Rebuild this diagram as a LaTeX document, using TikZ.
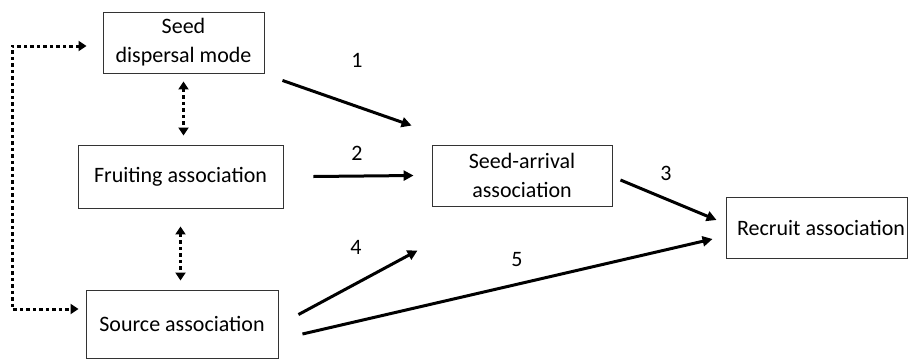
\documentclass[tikz,border=0pt]{standalone}
\usepackage{fontspec}
\setmainfont{Carlito}
\usetikzlibrary{positioning, arrows.meta}

\begin{document}
\begin{tikzpicture}[x=1pt, y=-1pt, font=\fontsize{22}{29}\selectfont]
  \useasboundingbox (0,0) rectangle (909,359);
  \tikzset{
    box/.style={draw=black!80, line width=0.9pt, align=center, inner sep=0pt},
    arr/.style={-{Triangle[length=10pt, width=10pt]}, line width=3pt},
    dotarr/.style={{Triangle[length=8pt, width=10pt]}-{Triangle[length=8pt, width=10pt]},
                   line width=3pt, dash pattern=on 3.5pt off 3pt}
  }
  \node[box, minimum width=161pt, minimum height=61pt] (disp) at (183.5,42.5) {Seed\\dispersal mode};
  \node[box, minimum width=205pt, minimum height=63pt] (fruit) at (180.5,176.5) {Fruiting association};
  \node[box, minimum width=192pt, minimum height=68pt] (source) at (182,324) {Source association};
  \node[box, minimum width=180pt, minimum height=61pt] (arrival) at (522,175.5) {Seed-arrival\\association};
  \node[box, minimum width=181pt, minimum height=61pt, text width=177pt, align=flush right, inner xsep=2pt]
    (recruit) at (816.5,227.5) {Recruit association};

  % paths to seed arrival and recruits
  \draw[arr] ([shift={(18,7)}]disp.south east) -- ([shift={(-20,-19)}]arrival.north west);
  \draw[arr] ([xshift=30pt]fruit.east) -- ([xshift=-18pt]arrival.west);
  \draw[arr] ([shift={(8,4.5)}]arrival.east) -- ([shift={(-9,-7.5)}]recruit.west);
  \draw[arr] ([shift={(20,25)}]source.north east) -- ([shift={(-14,44)}]arrival.south west);
  \draw[arr] ([shift={(24,10)}]source.east) -- ([shift={(-13,11.5)}]recruit.west);
  \node (n1) at (357,60) {1};
  \node (n2) at (357,153) {2};
  \node (n3) at (666,173) {3};
  \node (n4) at (356,247) {4};
  \node (n5) at (517,260) {5};

  % dotted links between the three left boxes
  \draw[dotarr] ([yshift=-8pt]disp.south) -- ([yshift=9pt]disp.south |- fruit.north);
  \draw[dotarr] ([yshift=-18pt]fruit.south) -- ([yshift=9pt]fruit.south |- source.north);
  \coordinate (lft) at (12,0);
  \coordinate (dtip) at ([shift={(-16,3.5)}]disp.west);
  \coordinate (stip) at ([shift={(-7,-15)}]source.west);
  \draw[dotarr] (dtip) -- (dtip -| lft) -- (stip -| lft) -- (stip);
\end{tikzpicture}
\end{document}
